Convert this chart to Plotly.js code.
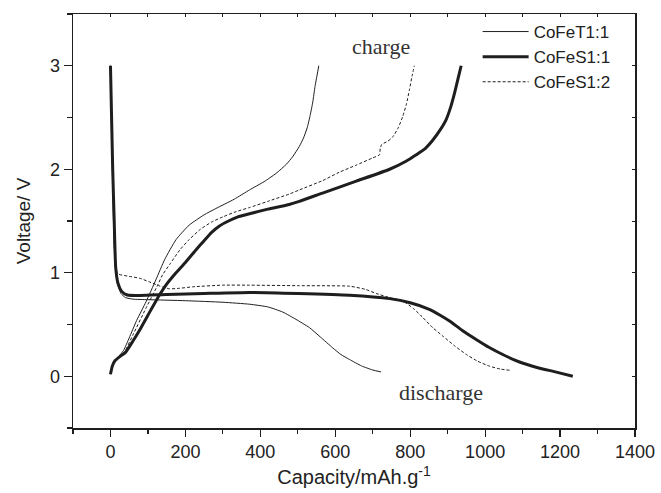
<!DOCTYPE html>
<html>
<head>
<meta charset="utf-8">
<script src="https://cdn.plot.ly/plotly-3.0.1.min.js"></script>
<style>html,body{margin:0;padding:0;background:#fff;}#chart{width:661px;height:493px;}</style>
</head>
<body>
<div id="chart"></div>
<script>
// CoFeT1:1 (thin solid)
const t11DisX = [0,2,5,8,12,18,28,40,60,100,200,300,371,420,460,495,531,560,593,615,638,670,700,722];
const t11DisY = [3.0,2.5,2.0,1.5,1.1,0.9,0.8,0.76,0.745,0.74,0.73,0.715,0.696,0.67,0.62,0.55,0.47,0.38,0.275,0.21,0.162,0.1,0.06,0.042];
const t11ChX = [0,8,20,35,50,70,95,121,145,175,210,250,281,330,371,410,442,470,486,504,515,525,533,540,546,552,556];
const t11ChY = [0.02,0.12,0.18,0.25,0.37,0.54,0.72,0.93,1.13,1.32,1.46,1.56,1.62,1.71,1.80,1.88,1.96,2.05,2.12,2.22,2.3,2.4,2.52,2.65,2.8,2.92,3.0];
// CoFeS1:1 (thick solid)
const s11DisX = [0,3,6,10,14,20,30,45,80,150,250,371,500,638,745,800,851,880,905,940,976,1010,1047,1090,1136,1190,1234];
const s11DisY = [3.0,2.5,2.0,1.5,1.05,0.9,0.82,0.785,0.78,0.79,0.8,0.81,0.8,0.783,0.75,0.71,0.647,0.59,0.534,0.44,0.356,0.28,0.21,0.14,0.087,0.04,0.0];
const s11ChX = [0,5,12,25,40,60,80,100,130,150,175,200,228,250,270,290,315,340,371,420,477,504,566,656,745,790,816,840,860,880,896,908,918,928,936];
const s11ChY = [0.02,0.1,0.15,0.19,0.23,0.34,0.46,0.59,0.78,0.89,1.0,1.1,1.22,1.31,1.39,1.45,1.5,1.54,1.57,1.615,1.66,1.69,1.77,1.885,2.0,2.08,2.14,2.2,2.28,2.38,2.48,2.6,2.73,2.88,3.0];
// CoFeS1:2 (dashed)
const s12DisX = [0,3,6,9,12,20,50,77,105,130,157,185,219,300,371,500,638,680,709,745,780,810,834,860,887,920,950,980,1012,1040,1065];
const s12DisY = [3.0,2.5,2.0,1.5,1.1,0.99,0.965,0.948,0.91,0.874,0.845,0.85,0.864,0.88,0.88,0.875,0.87,0.84,0.8,0.76,0.728,0.65,0.566,0.47,0.388,0.29,0.21,0.145,0.097,0.07,0.058];
const s12ChX = [0,8,20,38,60,95,126,139,160,185,210,240,270,300,335,371,420,477,504,566,610,656,700,718,720,724,740,753,768,780,790,798,805,811];
const s12ChY = [0.02,0.12,0.18,0.24,0.4,0.66,0.88,0.98,1.09,1.22,1.32,1.42,1.49,1.54,1.59,1.63,1.69,1.76,1.80,1.89,1.97,2.04,2.11,2.14,2.2,2.24,2.27,2.31,2.4,2.51,2.63,2.77,2.9,3.0];

const seriesNames = ['CoFeT1:1','CoFeS1:1','CoFeS1:2'];
const xTickVals = [0,200,400,600,800,1000,1200,1400];
const yTickVals = [0,1,2,3];

const ink = '#1e1e1e';
const thin = {color: ink, width: 1, shape: 'spline', smoothing: 0.5};
const thick = {color: ink, width: 3, shape: 'spline', smoothing: 0.5};
const dashed = {color: ink, width: 1, dash: '3px,2px', shape: 'spline', smoothing: 0.5};

const traces = [
  {x: t11DisX, y: t11DisY, mode: 'lines', line: thin, name: seriesNames[0], legendgroup: 'a', showlegend: true},
  {x: t11ChX, y: t11ChY, mode: 'lines', line: thin, name: seriesNames[0], legendgroup: 'a', showlegend: false},
  {x: s11DisX, y: s11DisY, mode: 'lines', line: thick, name: seriesNames[1], legendgroup: 'b', showlegend: true},
  {x: s11ChX, y: s11ChY, mode: 'lines', line: thick, name: seriesNames[1], legendgroup: 'b', showlegend: false},
  {x: s12DisX, y: s12DisY, mode: 'lines', line: dashed, name: seriesNames[2], legendgroup: 'c', showlegend: true},
  {x: s12ChX, y: s12ChY, mode: 'lines', line: dashed, name: seriesNames[2], legendgroup: 'c', showlegend: false},
  {x: [], y: [], xaxis: 'x2', yaxis: 'y2', showlegend: false, hoverinfo: 'skip'}
];

const sans = 'Liberation Sans, Arial, sans-serif';
const serif = 'Liberation Serif, Times New Roman, serif';
const tickFont = {family: sans, size: 18, color: '#222'};
const layout = {
  width: 661, height: 493,
  margin: {l: 73, r: 26, t: 14, b: 65},
  paper_bgcolor: '#fff', plot_bgcolor: '#fff',
  showlegend: true,
  legend: {x: 0.72, y: 1.0, xanchor: 'left', yanchor: 'top', bgcolor: 'rgba(0,0,0,0)',
           font: {family: sans, size: 17, color: '#222'},
           itemwidth: 46, tracegroupgap: 0},
  xaxis: {range: [-100, 1400], tickvals: xTickVals, ticks: 'outside', ticklen: 7, tickwidth: 1.2, tickcolor: ink,
          minor: {dtick: 100, tick0: 0, ticks: 'outside', ticklen: 4, tickwidth: 1.2, tickcolor: ink},
          showline: true, linecolor: ink, linewidth: 1.5, showgrid: false, zeroline: false,
          tickfont: tickFont,
          title: {text: 'Capacity/mAh.g<sup>-1</sup>', font: {family: sans, size: 20, color: '#222'}, standoff: 9}},
  yaxis: {range: [-0.5, 3.5], tickvals: yTickVals, ticks: 'outside', ticklen: 8, tickwidth: 1.2, tickcolor: ink,
          minor: {dtick: 0.5, tick0: 0, ticks: 'outside', ticklen: 5, tickwidth: 1.2, tickcolor: ink},
          showline: true, linecolor: ink, linewidth: 1.5, showgrid: false, zeroline: false,
          tickfont: tickFont,
          title: {text: 'Voltage/ V', font: {family: sans, size: 19, color: '#222'}, standoff: 14}},
  xaxis2: {overlaying: 'x', side: 'top', anchor: 'y2', range: [-100, 1400], dtick: 100, tick0: 0, ticks: 'inside', ticklen: 3,
           tickcolor: ink, showticklabels: false, showline: true, linecolor: ink, linewidth: 1.5, showgrid: false, zeroline: false},
  yaxis2: {overlaying: 'y', side: 'right', anchor: 'x2', range: [-0.5, 3.5], dtick: 0.5, tick0: 0, ticks: 'inside', ticklen: 3,
           tickcolor: ink, showticklabels: false, showline: true, linecolor: ink, linewidth: 1.5, showgrid: false, zeroline: false},
  annotations: [
    {text: 'charge', x: 723, y: 3.19, xref: 'x', yref: 'y', xanchor: 'center', yanchor: 'middle', showarrow: false,
     font: {family: serif, size: 22, color: '#333'}},
    {text: 'discharge', x: 881, y: -0.155, xref: 'x', yref: 'y', xanchor: 'center', yanchor: 'middle', showarrow: false,
     font: {family: serif, size: 22, color: '#333'}}
  ]
};

Plotly.newPlot('chart', traces, layout, {displayModeBar: false, staticPlot: true});
</script>
</body>
</html>
